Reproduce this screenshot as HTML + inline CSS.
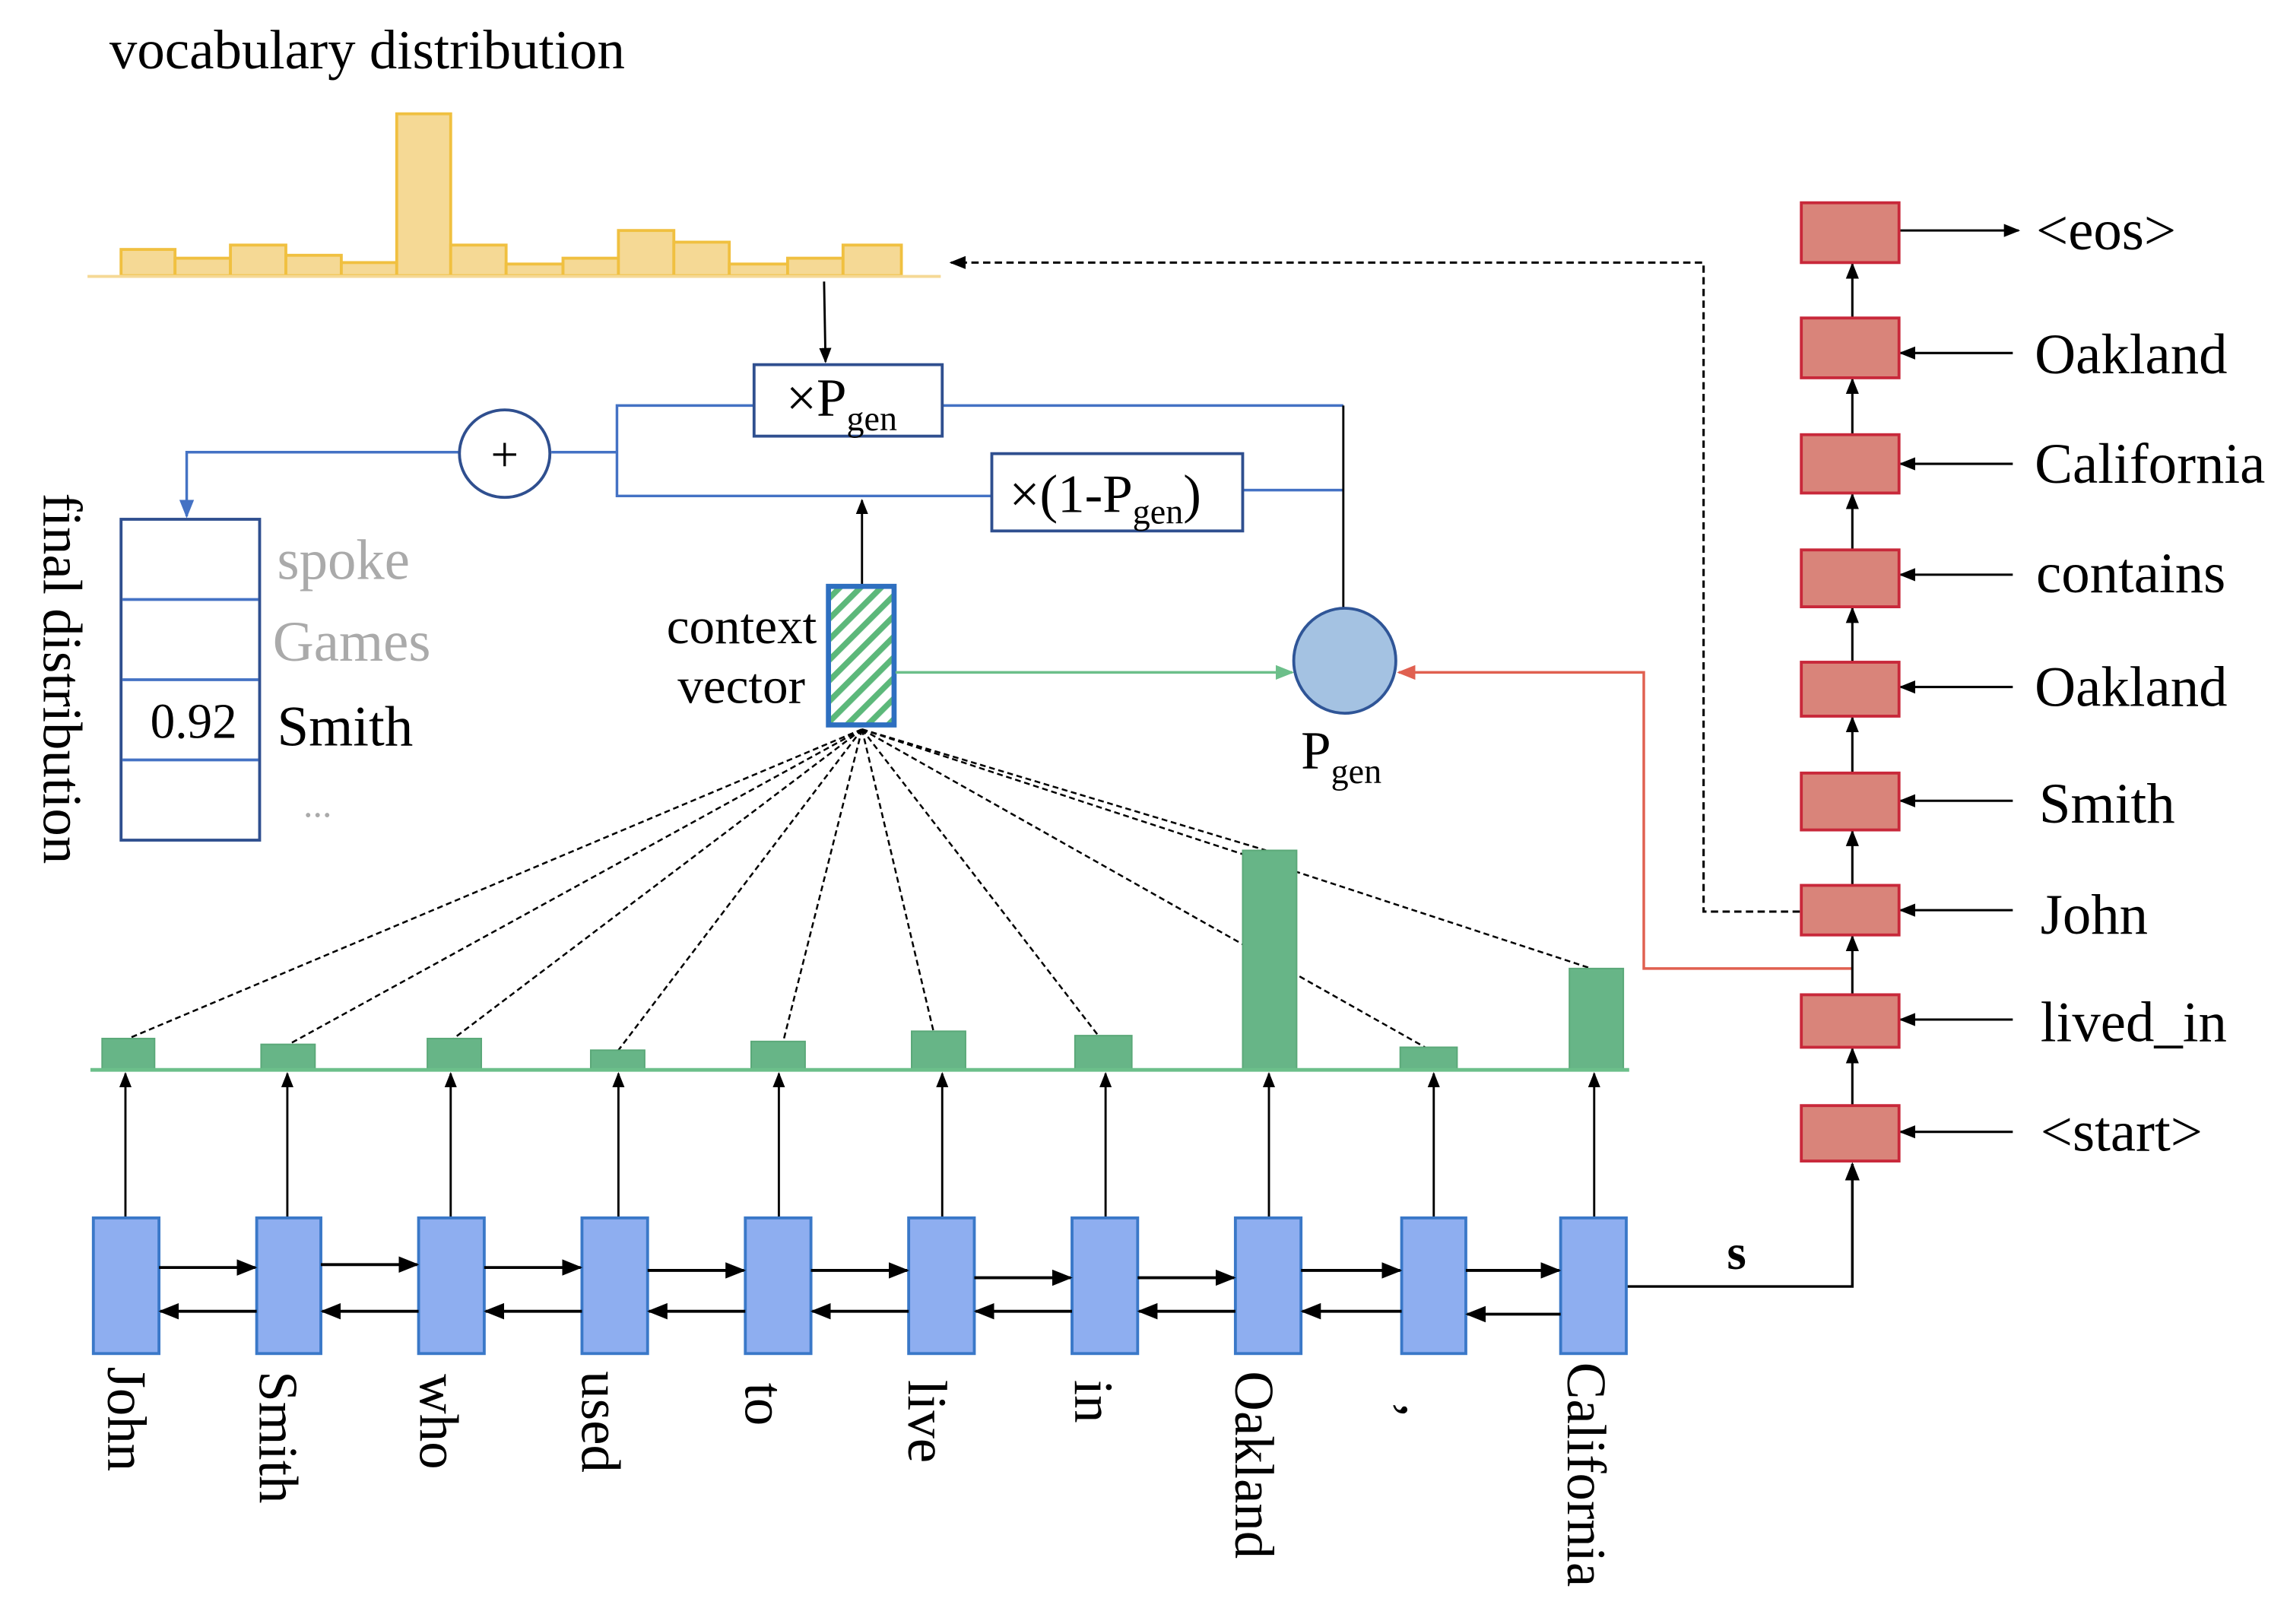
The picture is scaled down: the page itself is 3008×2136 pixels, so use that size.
<!DOCTYPE html>
<html><head><style>html,body{margin:0;padding:0;background:#fff}svg{display:block}text{font-family:"Liberation Serif",serif}</style></head><body>
<svg width="3008" height="2136" viewBox="0 0 1568 1113.4" xmlns="http://www.w3.org/2000/svg">
<defs>
<marker id="ab" viewBox="0 0 10 10" refX="9" refY="5" markerWidth="7" markerHeight="7" orient="auto-start-reverse"><path d="M0,1 L10,5 L0,9 z" fill="#000"/></marker>
<marker id="abl" viewBox="0 0 10 10" refX="9" refY="5" markerWidth="7" markerHeight="7" orient="auto"><path d="M0,1 L10,5 L0,9 z" fill="#4472c4"/></marker>
<marker id="agr" viewBox="0 0 10 10" refX="9" refY="5" markerWidth="7" markerHeight="7" orient="auto"><path d="M0,1 L10,5 L0,9 z" fill="#6cbf8a"/></marker>
<marker id="ard" viewBox="0 0 10 10" refX="9" refY="5" markerWidth="7" markerHeight="7" orient="auto"><path d="M0,1 L10,5 L0,9 z" fill="#e06050"/></marker>
<pattern id="hatch" width="10" height="10" patternUnits="userSpaceOnUse" patternTransform="rotate(45)"><rect width="10" height="10" fill="#fff"/><rect width="4" height="10" fill="#5cb87a"/></pattern>
</defs>
<text x="75" y="47" font-size="38">vocabulary distribution</text>
<g fill="#f5d995" stroke="#f0c040" stroke-width="2">
<rect x="83" y="171" width="37" height="18"/><rect x="120" y="177" width="38" height="12"/><rect x="158" y="168" width="38" height="21"/><rect x="196" y="175" width="38" height="14"/><rect x="234" y="180" width="38" height="9"/><rect x="272" y="78" width="37" height="111"/><rect x="309" y="168" width="38" height="21"/><rect x="347" y="181" width="39" height="8"/><rect x="386" y="177" width="38" height="12"/><rect x="424" y="158" width="38" height="31"/><rect x="462" y="166" width="38" height="23"/><rect x="500" y="181" width="40" height="8"/><rect x="540" y="177" width="38" height="12"/><rect x="578" y="168" width="40" height="21"/>
</g>
<line x1="60" y1="189.5" x2="645" y2="189.5" stroke="#f5d995" stroke-width="2"/>
<line x1="565" y1="193" x2="566" y2="248" stroke="#000" stroke-width="1.5" marker-end="url(#ab)"/>
<g fill="none" stroke="#4472c4" stroke-width="1.8">
<polyline points="517,278 423,278 423,340 680,340"/>
<line x1="378" y1="310" x2="423" y2="310"/>
<polyline points="646,278 921,278"/>
<line x1="852" y1="336" x2="921" y2="336"/>
<polyline points="315,310 128,310 128,354" marker-end="url(#abl)"/>
</g>
<line x1="921" y1="278" x2="921" y2="418" stroke="#000" stroke-width="1.5"/>
<rect x="517" y="250" width="129" height="49" fill="#fff" stroke="#2f4f8f" stroke-width="2"/>
<text x="539" y="285" font-size="37">×P<tspan font-size="24" dy="10">gen</tspan></text>
<rect x="680" y="311" width="172" height="53" fill="#fff" stroke="#2f4f8f" stroke-width="2"/>
<text x="692" y="351" font-size="37">×(1-P<tspan font-size="24" dy="8">gen</tspan><tspan dy="-8">)</tspan></text>
<ellipse cx="346" cy="311" rx="31" ry="30" fill="#fff" stroke="#2f4f8f" stroke-width="2"/>
<text x="346" y="323" font-size="34" text-anchor="middle">+</text>
<rect x="83" y="356" width="95" height="220" fill="#fff" stroke="#2f4f8f" stroke-width="2"/>
<g stroke="#4472c4" stroke-width="2"><line x1="84" y1="411" x2="177" y2="411"/><line x1="84" y1="466" x2="177" y2="466"/><line x1="84" y1="521" x2="177" y2="521"/></g>
<text x="103" y="506" font-size="34">0.92</text>
<text x="190" y="397" font-size="39" fill="#aaa">spoke</text>
<text x="187" y="453" font-size="39" fill="#aaa">Games</text>
<text x="190" y="511" font-size="39">Smith</text>
<text x="208" y="560" font-size="26" fill="#aaa">...</text>
<text transform="translate(30,338) rotate(90)" font-size="38">final distribution</text>
<line x1="591" y1="401" x2="591" y2="343" stroke="#000" stroke-width="1.5" marker-end="url(#ab)"/>
<rect x="568" y="402" width="45" height="95" fill="url(#hatch)" stroke="#2e6fc0" stroke-width="3.5"/>
<text x="560" y="441" font-size="35" text-anchor="end">context</text>
<text x="552" y="482" font-size="35" text-anchor="end">vector</text>
<line x1="614" y1="461" x2="886" y2="461" stroke="#6cbf8a" stroke-width="1.8" marker-end="url(#agr)"/>
<polyline points="1270,664 1127,664 1127,461 959,461" fill="none" stroke="#e06050" stroke-width="1.8" marker-end="url(#ard)"/>
<ellipse cx="922" cy="453" rx="35" ry="36" fill="#a4c2e2" stroke="#2f5597" stroke-width="2"/>
<text x="892" y="527" font-size="37">P<tspan font-size="24" dy="10">gen</tspan></text>
<polyline points="1234,625 1168,625 1168,180 652,180" fill="none" stroke="#000" stroke-width="1.6" stroke-dasharray="5,3" marker-end="url(#ab)"/>
<g stroke="#000" stroke-width="1.6" marker-end="url(#ab)">
<line x1="1270" y1="218" x2="1270" y2="181"/><line x1="1270" y1="298" x2="1270" y2="260"/><line x1="1270" y1="377" x2="1270" y2="339"/><line x1="1270" y1="454" x2="1270" y2="417"/><line x1="1270" y1="530" x2="1270" y2="492"/><line x1="1270" y1="607" x2="1270" y2="570"/><line x1="1270" y1="682" x2="1270" y2="642"/><line x1="1270" y1="758" x2="1270" y2="719"/>
<line x1="1302" y1="158" x2="1384" y2="158"/>
<line x1="1380" y1="242" x2="1303" y2="242"/><line x1="1380" y1="318" x2="1303" y2="318"/><line x1="1380" y1="394" x2="1303" y2="394"/><line x1="1380" y1="471" x2="1303" y2="471"/><line x1="1380" y1="549" x2="1303" y2="549"/><line x1="1380" y1="624" x2="1303" y2="624"/><line x1="1380" y1="699" x2="1303" y2="699"/><line x1="1380" y1="776" x2="1303" y2="776"/>
</g>
<polyline points="1115,882 1270,882 1270,798" fill="none" stroke="#000" stroke-width="1.8" marker-end="url(#ab)"/>
<g fill="#d9847a" stroke="#c8283a" stroke-width="2">
<rect x="1235" y="139" width="67" height="41"/><rect x="1235" y="218" width="67" height="41"/><rect x="1235" y="298" width="67" height="40"/><rect x="1235" y="377" width="67" height="39"/><rect x="1235" y="454" width="67" height="37"/><rect x="1235" y="530" width="67" height="39"/><rect x="1235" y="607" width="67" height="34"/><rect x="1235" y="682" width="67" height="36"/><rect x="1235" y="758" width="67" height="38"/>
</g>
<g font-size="39">
<text x="1396" y="171">&lt;eos&gt;</text><text x="1395" y="256">Oakland</text><text x="1395" y="331">California</text><text x="1396" y="406">contains</text><text x="1395" y="484">Oakland</text><text x="1398" y="564">Smith</text><text x="1399" y="640">John</text><text x="1399" y="714">lived_in</text><text x="1399" y="789">&lt;start&gt;</text>
</g>
<text x="1184" y="870" font-size="34" font-weight="bold">s</text>
<g stroke="#000" stroke-width="1.3" stroke-dasharray="4,2.5" fill="none">
<line x1="591" y1="500" x2="88" y2="712"/><line x1="591" y1="500" x2="198" y2="716"/><line x1="591" y1="500" x2="311" y2="712"/><line x1="591" y1="500" x2="424" y2="720"/><line x1="591" y1="500" x2="537" y2="714"/><line x1="591" y1="500" x2="640" y2="707"/><line x1="591" y1="500" x2="753" y2="710"/><line x1="591" y1="500" x2="868" y2="583"/><line x1="591" y1="500" x2="977" y2="718"/><line x1="591" y1="500" x2="1091" y2="664"/>
</g>
<g fill="#67b587" stroke="#5aa878" stroke-width="1">
<rect x="70" y="712" width="36" height="21"/><rect x="179" y="716" width="37" height="17"/><rect x="293" y="712" width="37" height="21"/><rect x="405" y="720" width="37" height="13"/><rect x="515" y="714" width="37" height="19"/><rect x="625" y="707" width="37" height="26"/><rect x="737" y="710" width="39" height="23"/><rect x="852" y="583" width="37" height="150"/><rect x="960" y="718" width="39" height="15"/><rect x="1076" y="664" width="37" height="69"/>
</g>
<line x1="62" y1="733.5" x2="1117" y2="733.5" stroke="#6cbf8a" stroke-width="2.5"/>
<g stroke="#000" stroke-width="1.5" marker-end="url(#ab)">
<line x1="86" y1="835" x2="86" y2="736"/><line x1="197" y1="835" x2="197" y2="736"/><line x1="309" y1="835" x2="309" y2="736"/><line x1="424" y1="835" x2="424" y2="736"/><line x1="534" y1="835" x2="534" y2="736"/><line x1="646" y1="835" x2="646" y2="736"/><line x1="758" y1="835" x2="758" y2="736"/><line x1="870" y1="835" x2="870" y2="736"/><line x1="983" y1="835" x2="983" y2="736"/><line x1="1093" y1="835" x2="1093" y2="736"/>
</g>
<g fill="#8eaef0" stroke="#3a78c8" stroke-width="2">
<rect x="64" y="835" width="45" height="93"/><rect x="176" y="835" width="44" height="93"/><rect x="287" y="835" width="45" height="93"/><rect x="399" y="835" width="45" height="93"/><rect x="511" y="835" width="45" height="93"/><rect x="623" y="835" width="45" height="93"/><rect x="735" y="835" width="45" height="93"/><rect x="847" y="835" width="45" height="93"/><rect x="961" y="835" width="44" height="93"/><rect x="1070" y="835" width="45" height="93"/>
</g>
<g stroke="#000" stroke-width="2" marker-end="url(#ab)">
<line x1="109" y1="869" x2="175" y2="869"/><line x1="220" y1="867" x2="286" y2="867"/><line x1="332" y1="869" x2="398" y2="869"/><line x1="444" y1="871" x2="510" y2="871"/><line x1="556" y1="871" x2="622" y2="871"/><line x1="668" y1="876" x2="734" y2="876"/><line x1="780" y1="876" x2="846" y2="876"/><line x1="892" y1="871" x2="960" y2="871"/><line x1="1005" y1="871" x2="1069" y2="871"/>
<line x1="176" y1="899" x2="110" y2="899"/><line x1="287" y1="899" x2="221" y2="899"/><line x1="399" y1="899" x2="333" y2="899"/><line x1="511" y1="899" x2="445" y2="899"/><line x1="623" y1="899" x2="557" y2="899"/><line x1="735" y1="899" x2="669" y2="899"/><line x1="847" y1="899" x2="781" y2="899"/><line x1="961" y1="899" x2="893" y2="899"/><line x1="1070" y1="901" x2="1006" y2="901"/>
</g>
<g font-size="38">
<text transform="translate(74,937) rotate(90)">John</text>
<text transform="translate(178,940) rotate(90)">Smith</text>
<text transform="translate(288,942) rotate(90)">who</text>
<text transform="translate(399,940) rotate(90)">used</text>
<text transform="translate(511,948) rotate(90)">to</text>
<text transform="translate(623,946) rotate(90)">live</text>
<text transform="translate(737,946) rotate(90)">in</text>
<text transform="translate(847,940) rotate(90)">Oakland</text>
<text transform="translate(961,962) rotate(90)">,</text>
<text transform="translate(1075,934) rotate(90)">California</text>
</g>
</svg>
</body></html>
